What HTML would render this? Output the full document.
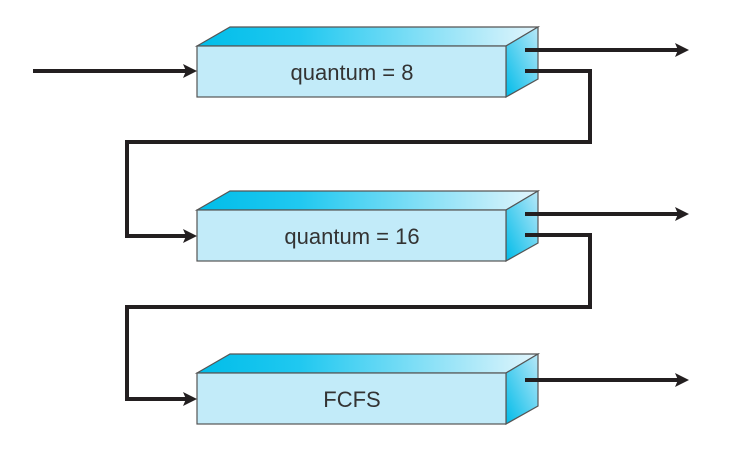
<!DOCTYPE html>
<html><head><style>html,body{margin:0;padding:0;background:#fff;}svg{display:block;}</style></head>
<body>
<svg width="733" height="452" viewBox="0 0 733 452" xmlns="http://www.w3.org/2000/svg">
<defs>
<linearGradient id="top" x1="0" y1="0" x2="1" y2="0">
<stop offset="0" stop-color="#00bde9"/><stop offset="0.3" stop-color="#20c8f0"/><stop offset="1" stop-color="#e2f5fc"/>
</linearGradient>
<linearGradient id="side" x1="0" y1="1" x2="1" y2="0">
<stop offset="0" stop-color="#00bce9"/><stop offset="1" stop-color="#b9e8f8"/>
</linearGradient>
</defs>
<g stroke="#555" stroke-width="1.2">
<polygon points="197,46 230,27 538,27 506,46" fill="url(#top)"/>
<polygon points="506,46 538,27 538,79 506,97" fill="url(#side)"/>
<rect x="197" y="46" width="309" height="51" fill="#c2ebf9"/>
<polygon points="197,210 230,191 538,191 506,210" fill="url(#top)"/>
<polygon points="506,210 538,191 538,243 506,261" fill="url(#side)"/>
<rect x="197" y="210" width="309" height="51" fill="#c2ebf9"/>
<polygon points="197,373 230,354 538,354 506,373" fill="url(#top)"/>
<polygon points="506,373 538,354 538,406 506,424" fill="url(#side)"/>
<rect x="197" y="373" width="309" height="51" fill="#c2ebf9"/>
</g>
<g font-family="Liberation Sans, sans-serif" font-size="22" fill="#333" text-anchor="middle">
<text x="352" y="80">quantum = 8</text>
<text x="352" y="244">quantum = 16</text>
<text x="352" y="407">FCFS</text>
</g>
<g stroke="#231f20" stroke-width="4" fill="none">
<line x1="33" y1="71" x2="186" y2="71"/>
<line x1="525" y1="50" x2="678" y2="50"/>
<polyline points="525,71 590,71 590,142 127,142 127,236 186,236"/>
<line x1="525" y1="214" x2="678" y2="214"/>
<polyline points="525,235 590,235 590,307 127,307 127,399 186,399"/>
<line x1="525" y1="380" x2="678" y2="380"/>
</g>
<g fill="#231f20">
<path d="M197,71 L183,64 L186,71 L183,78 Z"/>
<path d="M197,236 L183,229 L186,236 L183,243 Z"/>
<path d="M197,399 L183,392 L186,399 L183,406 Z"/>
<path d="M689,50 L675,43 L678,50 L675,57 Z"/>
<path d="M689,214 L675,207 L678,214 L675,221 Z"/>
<path d="M689,380 L675,373 L678,380 L675,387 Z"/>
</g>
</svg>
</body></html>
